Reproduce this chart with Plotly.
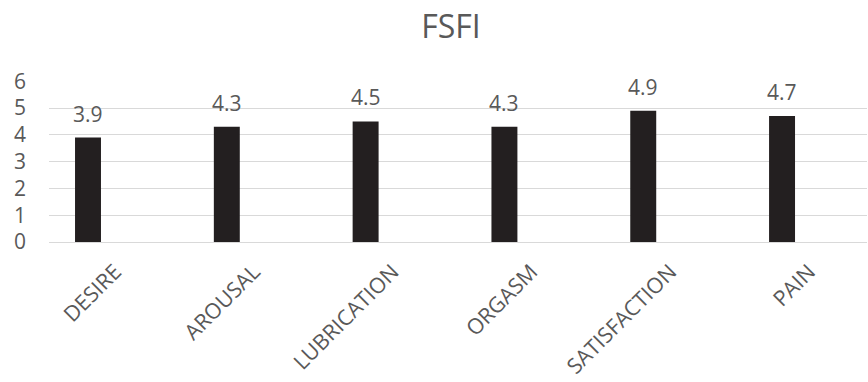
import plotly.graph_objects as go

categories = ["DESIRE", "AROUSAL", "LUBRICATION", "ORGASM", "SATISFACTION", "PAIN"]
values = [3.9, 4.3, 4.5, 4.3, 4.9, 4.7]
y_ticks = [0, 1, 2, 3, 4, 5, 6]

GRAY = "#595959"
FONT = "Open Sans"

fig = go.Figure()
fig.add_trace(go.Bar(
    x=list(range(len(categories))),
    y=values,
    width=0.187,
    marker=dict(color="#231f20", line=dict(width=0)),
    hoverinfo="skip",
))

for i, v in enumerate(values):
    fig.add_annotation(
        x=i, y=v, text=f"{v:.1f}", showarrow=False,
        xanchor="center", yanchor="bottom", yshift=8,
        font=dict(family=FONT, size=21, color=GRAY),
    )

fig.update_layout(
    width=868, height=382,
    margin=dict(l=49, r=1, t=81, b=140, autoexpand=False),
    paper_bgcolor="white", plot_bgcolor="white",
    showlegend=False,
    title=dict(
        text="FSFI", x=451/868, xanchor="center", xref="container",
        y=1 - 27/382, yanchor="middle", yref="container",
        font=dict(family=FONT, size=32, color=GRAY),
    ),
    font=dict(family=FONT, color=GRAY),
)
fig.update_xaxes(
    range=[-0.281, 5.612], automargin=False,
    tickmode="array", tickvals=list(range(len(categories))), ticktext=categories,
    tickangle=-45, tickfont=dict(family=FONT, size=21.5, color=GRAY),
    ticklabelshift=27, ticklabelstandoff=12,
    showgrid=False, zeroline=False, showline=False, ticks="",
)
fig.update_yaxes(
    range=[0, 6.01], automargin=False,
    tickmode="array", tickvals=y_ticks,
    tickfont=dict(family=FONT, size=21, color=GRAY),
    showgrid=True, gridcolor="#d9d9d9", gridwidth=1.3,
    zeroline=True, zerolinecolor="#d9d9d9", zerolinewidth=1.3,
    ticklabelstandoff=22, ticks="",
)

fig.write_html("out.html")
